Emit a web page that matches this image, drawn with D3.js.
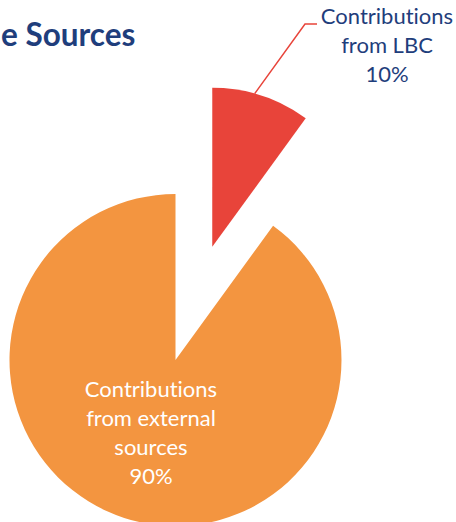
<!DOCTYPE html>
<html>
<head>
<meta charset="utf-8">
<script src="https://cdn.jsdelivr.net/npm/d3@7"></script>
<style>
  html, body { margin: 0; padding: 0; background: #fff; }
  svg { display: block; }
  text { font-variant-ligatures: none; font-feature-settings: "liga" 0, "clig" 0; }
</style>
</head>
<body>
<svg id="chart" width="456" height="522"></svg>
<script>
// Revenue split between the two funding sources
const categories = ["Contributions from LBC", "Contributions from external sources"];
const shares = [10, 90];
const labelLines = [
  ["Contributions", "from LBC", "10%"],
  ["Contributions", "from external", "sources", "90%"]
];
const titleText = "e Sources";

const width = 456, height = 522;
const cx = 175.5, cy = 360;
const radius = 166;
const explodedRadius = 159;
const explodeOffset = 119;
const colors = ["#E8443A", "#F39540"];
const textColor = "#1F3E7C";
const fontFamily = "Lato, 'Open Sans', sans-serif";

const svg = d3.select("#chart");

svg.append("text")
  .attr("x", 1)
  .attr("y", 46)
  .attr("text-anchor", "start")
  .attr("font-family", fontFamily)
  .attr("font-weight", 700)
  .attr("font-size", 31.5)
  .attr("fill", textColor)
  .text(titleText);

const pie = d3.pie().sort(null).value(d => d);
const arcs = pie(shares);

const g = svg.append("g").attr("transform", `translate(${cx},${cy})`);

// the small slice is pulled out along its bisector
function offsetOf(d, i) {
  if (i !== 0) return [0, 0];
  const mid = (d.startAngle + d.endAngle) / 2;
  return [Math.sin(mid) * explodeOffset, -Math.cos(mid) * explodeOffset];
}

const arcFor = i => d3.arc().innerRadius(0).outerRadius(i === 0 ? explodedRadius : radius);

g.selectAll("path.slice")
  .data(arcs)
  .join("path")
  .attr("class", "slice")
  .attr("transform", (d, i) => `translate(${offsetOf(d, i)})`)
  .attr("d", (d, i) => arcFor(i)(d))
  .attr("fill", (d, i) => colors[i]);

// leader line from the exploded slice out to its label
const small = arcs[0];
const [ox, oy] = offsetOf(small, 0);
const leaderAngle = small.startAngle + (small.endAngle - small.startAngle) * 0.43;
const p0 = [ox + Math.sin(leaderAngle) * explodedRadius, oy - Math.cos(leaderAngle) * explodedRadius];
const p1 = [305 - cx, 24 - cy];
const p2 = [317 - cx, 24 - cy];
g.append("path")
  .attr("d", d3.line()([p0, p1, p2]))
  .attr("fill", "none")
  .attr("stroke", colors[0])
  .attr("stroke-width", 1.5);

const lineHeight = 29;
const labelPos = [[387 - cx, 24 - cy], [151 - cx, 397 - cy]];
const labelFill = [textColor, "#FFFFFF"];

labelLines.forEach((lines, i) => {
  const t = g.append("text")
    .attr("text-anchor", "middle")
    .attr("font-family", fontFamily)
    .attr("font-size", 22)
    .attr("fill", labelFill[i]);
  lines.forEach((ln, j) => {
    t.append("tspan")
      .attr("x", labelPos[i][0])
      .attr("y", labelPos[i][1] + j * lineHeight)
      .text(ln);
  });
});
</script>
</body>
</html>
